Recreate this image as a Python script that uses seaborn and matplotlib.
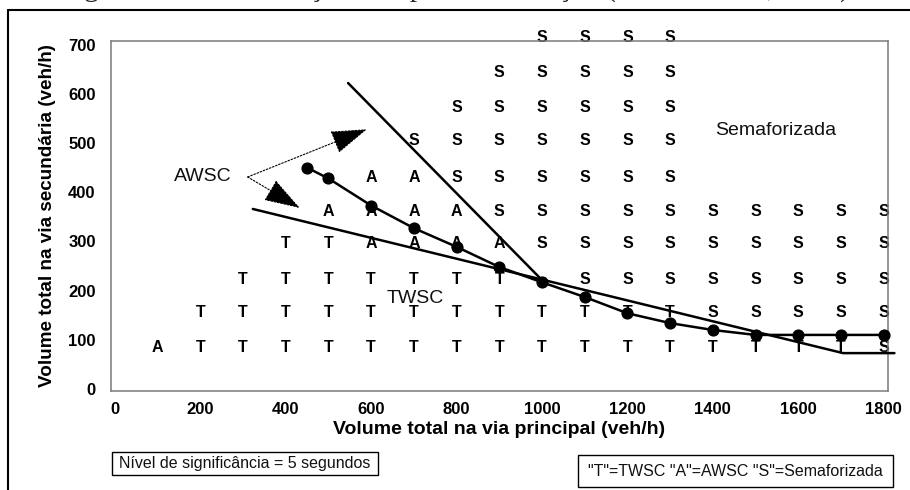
import matplotlib
matplotlib.use("Agg")
import matplotlib.pyplot as plt
from matplotlib.lines import Line2D
from matplotlib.patches import Rectangle
import numpy as np
import pandas as pd
import seaborn as sns

# ---- data -------------------------------------------------------------
# columns of the letter grid (main-road volume, veh/h)
grid_x = list(range(0, 1900, 100))
# rows of the letter grid (minor-road volume, veh/h), bottom to top
grid_y = [85, 155, 222, 295, 360, 430, 505, 572, 643, 715]
# control type found at each grid cell ('.' = no result)
grid_rows = [
    ".ATTTTTTTTTTTTTTTTS",
    "..TTTTTTTTTTTTSSSSS",
    "...TTTTTTT.SSSSSSSS",
    "....TTAAAASSSSSSSSS",
    ".....AAAASSSSSSSSSS",
    "......AASSSSSS.....",
    ".......SSSSSSS.....",
    "........SSSSSS.....",
    ".........SSSSS.....",
    "..........SSSS.....",
]

# TWSC / AWSC boundary (with markers)
awsc_x = [450, 500, 600, 700, 800, 900, 1000, 1100, 1200, 1300, 1400, 1500, 1600, 1700, 1800]
awsc_y = [450, 428, 373, 327, 289, 248, 217, 187, 154, 134, 120, 110, 110, 110, 110]

# signal boundary (steep line)
sig_x = [546, 1005]
sig_y = [622, 217]

# TWSC boundary (shallow line)
twsc_x = [323, 1705, 1825]
twsc_y = [366, 73, 73]

x_ticks = [0, 200, 400, 600, 800, 1000, 1200, 1400, 1600, 1800]
y_ticks = [0, 100, 200, 300, 400, 500, 600, 700]

caption = "Figura 2 – Determinação do tipo de interseção (Hansen et al., 1997)"
x_label = "Volume total na via principal (veh/h)"
y_label = "Volume total na via secundária (veh/h)"
note_text = "Nível de significância = 5 segundos"
key_text = '"T"=TWSC "A"=AWSC "S"=Semaforizada'

# ---- style ------------------------------------------------------------
sns.set_theme(style="white")
plt.rcParams["font.family"] = ["Liberation Sans", "DejaVu Sans"]

W, H = 910, 490
fig = plt.figure(figsize=(W / 100, H / 100), dpi=100)
fig.patch.set_facecolor("white")
ax = fig.add_axes([111 / W, 1 - 391 / H, 777 / W, 350.3 / H])
ax.set_facecolor("white")

# letters of the grid
cells = []
for yv, row in zip(grid_y, grid_rows):
    for xv, ch in zip(grid_x, row):
        if ch != ".":
            cells.append((xv, yv, ch))
cells = pd.DataFrame(cells, columns=["x", "y", "tipo"])
for _, r in cells.iterrows():
    ax.text(r.x, r.y, r.tipo, ha="center", va="center", fontsize=11.5,
            fontweight="heavy", color="black", clip_on=False, zorder=2)

# boundary lines
line_kw = dict(color="black", linewidth=1.8, sort=False, legend=False, ax=ax)
sns.lineplot(x=sig_x, y=sig_y, **line_kw)
sns.lineplot(x=twsc_x, y=twsc_y, **line_kw)
sns.lineplot(x=awsc_x, y=awsc_y, marker="o", markersize=8,
             markeredgecolor="black", **line_kw)
for ln in ax.lines:
    ln.set_clip_on(False)
    ln.set_zorder(3)

# region labels
ax.text(206, 431, "AWSC", ha="center", va="center", fontsize=14, color="#111111")
ax.text(703, 185, "TWSC", ha="center", va="center", fontsize=14, color="#111111")
ax.text(1546, 526, "Semaforizada", ha="center", va="center", fontsize=14, color="#111111")

# pointers from the AWSC label
arrow_kw = dict(arrowstyle="-|>,head_length=2.3,head_width=0.75",
                linestyle=(0, (1.5, 1.5)), linewidth=0.8, color="black",
                mutation_scale=10, shrinkA=0, shrinkB=0)
ax.annotate("", xy=(590, 528), xytext=(311, 431), arrowprops=arrow_kw)
ax.annotate("", xy=(433, 368), xytext=(311, 431), arrowprops=arrow_kw)

# axes
ax.set_xlim(-9, 1810)
ax.set_ylim(-4, 708)
ax.set_xticks(x_ticks)
ax.set_yticks(y_ticks)
ax.set_xticklabels([str(v) for v in x_ticks], fontweight="bold", fontsize=12)
ax.set_yticklabels([str(v) for v in y_ticks], fontweight="bold", fontsize=12)
ax.tick_params(axis="both", length=0, colors="black")
ax.tick_params(axis="x", pad=8)
ax.tick_params(axis="y", pad=11)
for s in ax.spines.values():
    s.set_color("#7a7a7a")
    s.set_linewidth(1.1)
    s.set_visible(True)
ax.grid(False)

ax.set_xlabel(x_label, fontsize=14, fontweight="bold", color="black", labelpad=3)
ax.set_ylabel(y_label, fontsize=13.6, fontweight="bold", color="black")
ax.yaxis.set_label_coords((56 - 111) / 777, 0.5)

# caption (cut by the top edge) and outer frame
fig.text(0.5, 1 + 4 / H, caption, ha="center", va="baseline",
         family=["Liberation Serif", "DejaVu Serif"], fontsize=21)
fig.add_artist(Line2D([8 / W, 8 / W], [0, 1 - 10 / H], transform=fig.transFigure,
                      color="black", linewidth=1.5))
fig.add_artist(Line2D([8 / W, 1], [1 - 10 / H, 1 - 10 / H], transform=fig.transFigure,
                      color="black", linewidth=1.5))

# note boxes below the chart
def boxed(x0, y0, x1, y1, text, size):
    fig.add_artist(Rectangle((x0 / W, 1 - y1 / H), (x1 - x0) / W, (y1 - y0) / H,
                             transform=fig.transFigure, fill=False,
                             edgecolor="black", linewidth=1.0))
    fig.text((x0 + x1) / 2 / W, 1 - (y0 + y1) / 2 / H, text, ha="center",
             va="center", fontsize=size, color="#111111")

boxed(112, 452, 378, 475, note_text, 11.5)
boxed(578, 455, 893, 487, key_text, 11.5)

fig.savefig("out.png", dpi=100)
